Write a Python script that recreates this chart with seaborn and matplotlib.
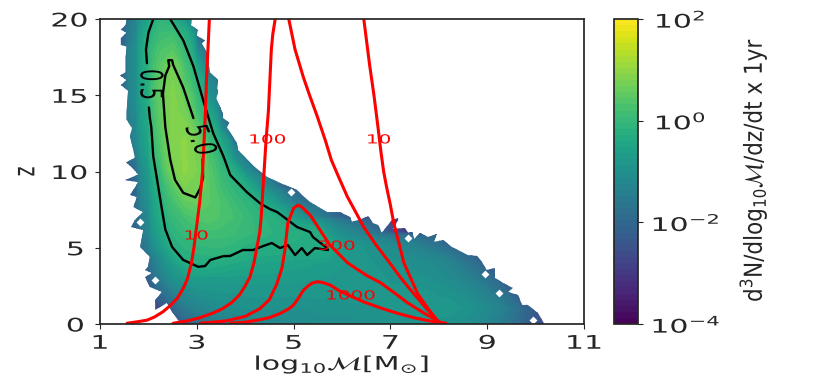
import numpy as np
import matplotlib
matplotlib.use("Agg")
import matplotlib.pyplot as plt
import seaborn as sns
from matplotlib.colors import LogNorm
from matplotlib.patches import Polygon
from matplotlib.patheffects import AbstractPathEffect
from matplotlib.transforms import Affine2D

# log10 density, one row per integer z (0..20), columns every 0.25 in log10 M
col_start = 1.25
col_step = 0.25
row_z = list(range(21))
row_first_x = [2.5, 2.25, 2.0, 1.75, 1.75, 1.5, 1.5, 1.5, 1.5, 1.5, 1.5, 1.5, 1.5,
               1.25, 1.25, 1.25, 1.25, 1.25, 1.25, 1.25, 1.25]
row_0 = [-2.8, -2.2, -1.9, -1.7, -1.5, -1.4, -1.3, -1.25, -1.2, -1.2, -1.15, -1.15, -1.15, -1.1, -1.1,
         -1.05, -1.05, -1.0, -1.0, -0.95, -0.95, -0.9, -0.95, -1.0, -1.05, -1.15, -1.3, -1.5, -1.75, -2.1, -2.4, -2.8]
row_1 = [-2.7, -2.1, -1.6, -1.35, -1.2, -1.1, -1.05, -1.0, -1.0, -1.0, -1.0, -1.0, -1.0, -0.95, -0.95, -0.95,
         -0.9, -0.9, -0.9, -0.85, -0.85, -0.8, -0.8, -0.8, -0.8, -0.9, -1.0, -1.15, -1.35, -1.6, -2.0, -2.4, -2.8]
row_2 = [-2.7, -2.0, -1.5, -1.2, -1.0, -0.95, -0.9, -0.9, -0.85, -0.85, -0.85, -0.85, -0.85, -0.85, -0.85, -0.85,
         -0.85, -0.85, -0.85, -0.85, -0.85, -0.85, -0.85, -0.85, -0.9, -0.95, -1.05, -1.2, -1.4, -1.7, -2.1, -2.7]
row_3 = [-2.8, -2.2, -1.5, -1.0, -0.8, -0.7, -0.7, -0.7, -0.7, -0.7, -0.7, -0.7, -0.72, -0.72, -0.75, -0.75, -0.78,
         -0.8, -0.82, -0.85, -0.85, -0.9, -0.9, -0.95, -1.0, -1.05, -1.15, -1.3, -1.5, -1.8, -2.2, -2.7]
row_4 = [-2.7, -2.0, -1.2, -0.7, -0.35, -0.28, -0.3, -0.35, -0.4, -0.45, -0.5, -0.55, -0.55, -0.6, -0.6, -0.65, -0.7,
         -0.75, -0.8, -0.85, -0.9, -0.95, -1.0, -1.05, -1.1, -1.2, -1.35, -1.6, -1.9, -2.5]
row_5 = [-2.9, -2.4, -1.5, -0.8, -0.3, -0.15, -0.1, -0.05, -0.05, -0.1, -0.2, -0.3, -0.3, -0.3, -0.3, -0.35, -0.35,
         -0.4, -0.7, -0.8, -0.9, -1.0, -1.1, -1.2, -1.3, -1.5, -1.7, -2.0, -2.6]
row_6 = [-2.8, -2.2, -1.3, -0.5, -0.15, 0.0, 0.1, 0.15, 0.15, 0.1, 0.0, -0.05, -0.15, -0.2, -0.25, -0.28, -0.35,
         -0.8, -1.1, -1.3, -1.5, -1.9, -2.4, -2.8]
row_7 = [-2.7, -2.0, -1.2, -0.35, 0.0, 0.2, 0.35, 0.4, 0.3, 0.2, 0.05, -0.1, -0.2, -0.35, -0.7, -1.1, -1.4, -1.75,
         -2.1, -2.7]
row_8 = [-2.7, -1.9, -1.0, -0.3, 0.2, 0.5, 0.6, 0.45, 0.3, 0.1, -0.1, -0.25, -0.55, -1.0, -1.5, -1.9, -2.2, -2.7]
row_9 = [-2.7, -2.0, -0.9, -0.15, 0.4, 0.8, 0.75, 0.45, 0.15, -0.1, -0.3, -0.8, -1.3, -1.9, -2.4]
row_10 = [-2.7, -1.9, -0.8, 0.05, 0.7, 0.95, 0.8, 0.4, 0.05, -0.3, -1.0, -1.7, -2.2, -2.7]
row_11 = [-2.6, -1.5, -0.6, 0.25, 0.8, 0.95, 0.75, 0.3, -0.2, -1.0, -1.9, -2.6]
row_12 = [-2.5, -1.25, -0.5, 0.35, 0.85, 0.95, 0.7, 0.1, -0.5, -1.7, -2.6]
row_13 = [-2.6, -2.4, -1.2, -0.4, 0.45, 0.85, 0.85, 0.45, -0.15, -1.3, -2.5]
row_14 = [-2.6, -2.1, -1.1, -0.35, 0.5, 0.85, 0.7, 0.15, -0.55, -2.1, -2.6]
row_15 = [-2.5, -2.0, -1.0, -0.3, 0.55, 0.85, 0.6, 0.0, -0.9, -2.2]
row_16 = [-2.5, -2.0, -1.0, -0.25, 0.5, 0.8, 0.35, -0.25, -1.2, -2.3]
row_17 = [-2.5, -2.0, -1.0, -0.2, 0.45, 0.72, 0.2, -0.6, -2.0, -2.6]
row_18 = [-2.5, -2.0, -1.0, -0.2, 0.3, 0.4, 0.0, -1.2, -2.3]
row_19 = [-2.5, -2.1, -1.2, -0.3, 0.1, 0.15, -0.25, -1.9, -2.5]
row_20 = [-2.5, -2.2, -1.3, -0.5, -0.1, -0.35, -0.9, -2.0, -2.5]
rows = [row_0, row_1, row_2, row_3, row_4, row_5, row_6, row_7, row_8, row_9, row_10,
        row_11, row_12, row_13, row_14, row_15, row_16, row_17, row_18, row_19, row_20]

# jagged outline of the populated region
left_x = [1.55, 1.53, 1.43, 1.55, 1.43, 1.43, 1.55, 1.53, 1.53, 1.41, 1.55, 1.43, 1.58, 1.55, 1.55, 1.66, 1.62,
          1.68, 1.72, 1.54, 1.68, 1.79, 1.52, 1.79, 1.62, 1.76, 1.69, 1.89, 1.72, 1.64, 1.89, 1.83, 2.03, 1.99,
          1.93, 2.07, 1.93, 2.03, 2.28, 2.14, 2.14, 2.38, 2.49, 2.61, 2.69]
left_z = [20, 19.6, 19.3, 19.1, 18.75, 18.3, 18.2, 17.5, 16.5, 16.3, 16, 15.67, 15.3, 13.9, 13.4, 12.85, 12.3,
          11.5, 10.9, 10.6, 10.2, 9.8, 9.44, 9.3, 8.46, 8.33, 7.67, 7.34, 6.82, 6.36, 6.16, 5.05, 4.4, 3.74,
          3.54, 3.34, 3.08, 2.43, 2.1, 1.57, 0.92, 1.38, 0.79, 0.26, 0]
right_x = [2.9, 2.88, 3.02, 3.0, 3.17, 3.1, 3.21, 3.27, 3.44, 3.42, 3.44, 3.4, 3.54, 3.54, 3.67, 3.62, 3.83, 3.85,
           4.16, 4.45, 4.72, 5.07, 5.13, 5.34, 5.69, 5.96, 6.17, 6.2, 6.37, 6.54, 6.64, 6.75, 6.82, 7.03, 7.16,
           7.16, 7.05, 7.3, 7.37, 7.45, 7.49, 7.61, 7.78, 7.96, 7.9, 8.09, 8.27, 8.6, 8.79, 8.89, 8.99, 9.16, 9.16,
           9.33, 9.53, 9.43, 9.64, 9.72, 9.84, 10.05, 10.17, 10.17]
right_z = [20, 19.6, 19.28, 18.9, 18.6, 18.4, 17.8, 16.5, 16.0, 15.5, 15.2, 14.8, 13.8, 13.5, 13.2, 12.9, 11.87, 11.4,
           10.4, 9.64, 9.25, 8.79, 8.59, 8.0, 7.34, 7.34, 7.0, 6.71, 6.82, 7.08, 6.62, 6.49, 5.97, 6.82, 6.95,
           6.8, 6.23, 6.3, 5.97, 6.03, 5.57, 5.97, 5.7, 5.9, 5.38, 5.51, 5.05, 4.52, 4.46, 4.07, 3.54, 3.67, 3.02,
           2.69, 2.36, 2.1, 1.9, 1.25, 1.25, 0.72, 0.07, 0]
# empty bins close to the edge
speck_x = [7.37, 8.95, 9.24, 9.95, 4.95, 1.83, 2.14]
speck_z = [5.64, 3.28, 2.03, 0.26, 8.66, 6.69, 2.89]

# contours (0.5 and 5.0)
c05_x = [2.1, 2.0, 1.95, 1.97]
c05_z = [20, 19.1, 18, 17.1]
c05b_x = [2.01, 2.03, 2.06, 2.1, 2.18, 2.28, 2.35, 2.49, 2.72, 3.03, 3.17, 3.28, 3.55, 3.69, 3.95, 4.16, 4.37, 4.55,
          4.72, 4.88, 5.03, 5.17, 5.28, 5.44, 5.71, 5.69, 5.4, 5.34, 5.07, 4.88, 4.66, 4.51, 4.3, 4.03, 3.69, 3.55,
          3.34, 3.13, 2.93, 2.72, 2.45]
c05b_z = [14.2, 13.5, 12.9, 11, 9.45, 7.5, 6.2, 5.05, 4.2, 3.75, 3.8, 4.2, 4.45, 4.46, 4.85, 4.85, 5.11, 5.31,
          4.98, 5.18, 4.52, 4.98, 4.52, 4.98, 4.85, 4.98, 5.7, 6.03, 6.36, 6.82, 7.34, 7.54, 7.93, 8.66, 9.77, 11,
          12.5, 14.7, 16.9, 18.6, 20]
c50_x = [2.93, 2.72, 2.51, 2.49, 2.41, 2.43, 2.35, 2.3, 2.35, 2.45, 2.55, 2.72, 2.97, 3.07, 3.13, 3.12]
c50_z = [13.5, 15.5, 17, 17.3, 17.3, 16.9, 16.3, 15.1, 12.9, 10.8, 9.45, 8.6, 8.3, 8.9, 9.6, 10.8]

# red curves
snr10a_x = [3.26, 3.23, 3.2, 3.18, 3.15, 3.12, 3.06, 3.02, 2.98, 2.94, 2.89, 2.81, 2.73, 2.6, 2.45, 2.3, 2.12, 1.97, 1.78, 1.56]
snr10a_z = [20, 18, 16, 14, 12, 10, 8, 7, 6, 5, 4, 3, 2.4, 1.7, 1.2, 0.8, 0.45, 0.25, 0.15, 0.05]
snr10b_x = [6.45, 6.51, 6.57, 6.66, 6.74, 6.8, 6.86, 6.92, 7.0, 7.07, 7.2, 7.28, 7.42, 7.56, 7.78, 8.0]
snr10b_z = [20, 18.5, 17, 15, 13, 11.4, 10, 9, 7.8, 6.6, 5, 4, 3, 2, 1, 0.1]
snr100a_x = [4.62, 4.57, 4.54, 4.51, 4.48, 4.43, 4.39, 4.35, 4.33, 4.3, 4.24, 4.18, 4.1, 4.0, 3.88, 3.72, 3.53, 3.32, 3.05, 2.8, 2.51]
snr100a_z = [20, 19, 18, 16, 14, 12, 10, 8, 7, 6, 5, 4, 3.1, 2.5, 1.9, 1.4, 1, 0.7, 0.4, 0.2, 0.05]
snr100b_x = [4.9, 5.03, 5.2, 5.33, 5.49, 5.66, 5.78, 5.95, 6.11, 6.29, 6.45, 6.7, 6.94, 7.22, 7.48, 7.75, 8.0]
snr100b_z = [20, 18, 16.2, 15, 13.6, 12, 10.75, 9.5, 8.35, 7.3, 6.35, 5.2, 4.2, 3, 2, 1, 0.1]
snr300_x = [3.07, 3.6, 4.0, 4.3, 4.5, 4.65, 4.76, 4.82, 4.88, 5.0, 5.09, 5.17, 5.34, 5.75, 6.12, 6.5, 6.8, 7.1, 7.35, 7.7, 8.05]
snr300_z = [0.05, 0.2, 0.5, 1.0, 1.6, 2.6, 3.67, 4.85, 6.62, 7.6, 7.8, 7.67, 7.15, 5.18, 4.0, 3.2, 2.7, 2.0, 1.4, 0.7, 0.08]
snr1000_x = [3.7, 4.0, 4.25, 4.5, 4.73, 4.9, 5.0, 5.1, 5.2, 5.3, 5.39, 5.5, 5.6, 5.76, 5.93, 6.2, 6.45, 6.8, 7.15, 7.5, 7.9, 8.15]
snr1000_z = [0.05, 0.12, 0.25, 0.42, 0.7, 1.0, 1.25, 1.7, 2.2, 2.5, 2.7, 2.77, 2.72, 2.55, 2.2, 1.8, 1.45, 1.05, 0.7, 0.4, 0.15, 0.05]

snr_labels = ["10", "100", "10", "300", "1000"]
snr_label_x = [2.99, 4.46, 6.76, 5.89, 6.18]
snr_label_z = [5.77, 12.07, 12.07, 5.1, 1.84]

xticks = [1, 3, 5, 7, 9, 11]
yticks = [0, 5, 10, 15, 20]
cbar_ticks = [1e-4, 1e-2, 1e0, 1e2]


class StretchX(AbstractPathEffect):
    # the text in the reference is pulled wide, as if the picture was resized
    def __init__(self, factor):
        super().__init__()
        self.factor = factor

    def draw_path(self, renderer, gc, tpath, affine, rgbFace=None):
        box = tpath.get_extents(affine)
        cx = (box.x0 + box.x1) / 2
        wide = affine + Affine2D().translate(-cx, 0).scale(self.factor, 1).translate(cx, 0)
        renderer.draw_path(gc, tpath, wide, rgbFace)


sns.set_theme(style="ticks")
plt.rcParams["font.family"] = ["DejaVu Sans"]
plt.rcParams["mathtext.fontset"] = "dejavusans"
wide = [StretchX(1.6)]

grid_x = col_start + col_step * np.arange(40)
grid_log = np.full((len(row_z), len(grid_x)), -2.8)
for i, row in enumerate(rows):
    first = int(round((row_first_x[i] - col_start) / col_step))
    grid_log[i, first:first + len(row)] = row

fig = plt.figure(figsize=(8.3, 3.82), dpi=100)
ax = fig.add_axes([100 / 830, 1 - 324 / 382, 484 / 830, 305 / 382])
cax = fig.add_axes([614 / 830, 1 - 324 / 382, 24 / 830, 305 / 382])

cmap = sns.color_palette("viridis", as_cmap=True)
cf = ax.contourf(grid_x, row_z, 10.0 ** grid_log, levels=np.logspace(-4, 2, 51),
                 norm=LogNorm(1e-4, 1e2), cmap=cmap)
outline = list(zip(left_x, left_z)) + list(zip(right_x[::-1], right_z[::-1]))
cf.set_clip_path(Polygon(outline, closed=True, transform=ax.transData))
ax.scatter(speck_x, speck_z, marker="D", s=16, color="white", linewidths=0, zorder=2)

for cx_, cz_ in [(c05_x, c05_z), (c05b_x, c05b_z), (c50_x, c50_z)]:
    sns.lineplot(x=cx_, y=cz_, sort=False, estimator=None, color="black", lw=1.7, ax=ax)
for rx, rz in [(snr10a_x, snr10a_z), (snr10b_x, snr10b_z), (snr100a_x, snr100a_z),
               (snr100b_x, snr100b_z), (snr300_x, snr300_z), (snr1000_x, snr1000_z)]:
    sns.lineplot(x=rx, y=rz, sort=False, estimator=None, color="red", lw=2.2, ax=ax)

for lab, lx, lz in zip(snr_labels, snr_label_x, snr_label_z):
    ax.text(lx, lz, lab, color="red", fontsize=9, ha="center", va="center", path_effects=wide)
ax.text(2.04, 15.7, "0.5", color="black", fontsize=14, rotation=-90, ha="center", va="center", path_effects=wide)
ax.text(3.07, 12.07, "5.0", color="black", fontsize=14, rotation=-75, ha="center", va="center", path_effects=wide)

ax.set_xlim(1, 11)
ax.set_ylim(0, 20)
ax.set_xticks(xticks)
ax.set_yticks(yticks)
ax.tick_params(axis="y", labelsize=13.5, pad=10, length=3.5, width=0.8)
ax.tick_params(axis="x", labelsize=13.5, pad=3.5, length=3.5, width=0.8)
ax.set_xlabel(r"log$_{10}\mathcal{M}$[M$_{\odot}$]", fontsize=13.5, labelpad=0, path_effects=wide)
ax.set_ylabel("z", fontsize=13.5, labelpad=16, path_effects=wide)
for t in ax.get_xticklabels() + ax.get_yticklabels():
    t.set_path_effects(wide)

cb = fig.colorbar(cf, cax=cax, ticks=cbar_ticks)
cb.ax.minorticks_off()
cb.ax.tick_params(labelsize=13.5, pad=15, length=3.5, width=0.8)
for t in cb.ax.get_yticklabels():
    t.set_path_effects(wide)
fig.text(753 / 830, 1 - 170 / 382, r"d$^3$N/dlog$_{10}\mathcal{M}$/dz/dt x 1yr", fontsize=15.5,
         rotation=90, ha="center", va="center", path_effects=[StretchX(1.15)])

fig.savefig("out.png", dpi=100)
